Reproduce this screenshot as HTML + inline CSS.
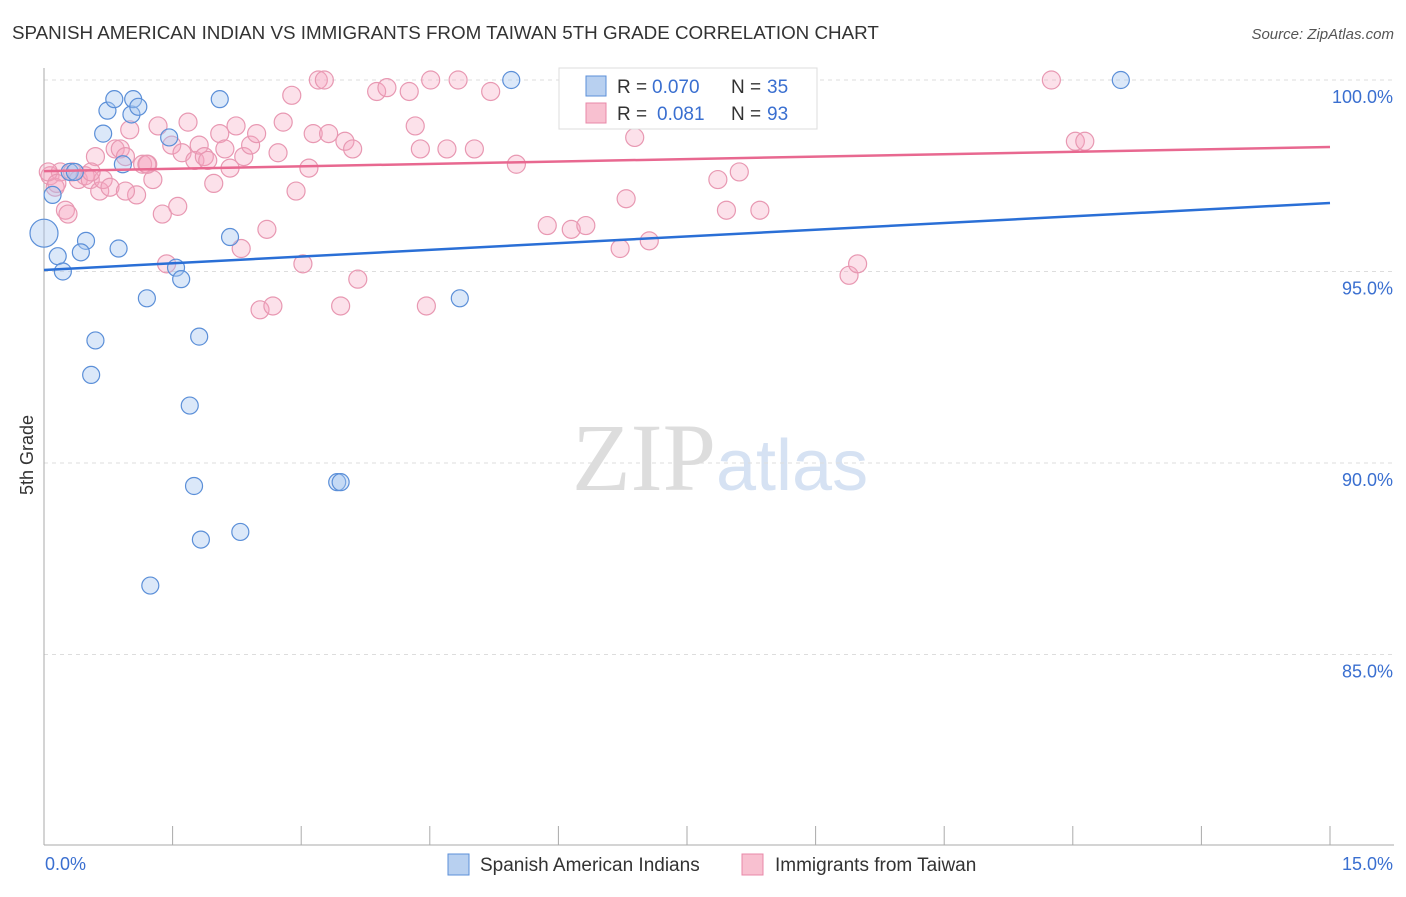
<!DOCTYPE html>
<html><head><meta charset="utf-8"><style>
body{margin:0;background:#fff;font-family:"Liberation Sans",sans-serif;}
</style></head><body>
<svg id="c" width="1406" height="892" xmlns="http://www.w3.org/2000/svg">
<text x="12" y="39" font-size="18.8" fill="#333">SPANISH AMERICAN INDIAN VS IMMIGRANTS FROM TAIWAN 5TH GRADE CORRELATION CHART</text>
<text x="1394" y="39" font-size="15" fill="#555" font-style="italic" text-anchor="end">Source: ZipAtlas.com</text>
<text x="33" y="455" font-size="18" fill="#333" text-anchor="middle" transform="rotate(-90 33 455)">5th Grade</text>
<text x="716" y="490" font-size="96" fill="#ddd" text-anchor="end" font-family="Liberation Serif,serif">ZIP</text>
<text x="716" y="490" font-size="72" fill="#d6e2f3">atlas</text>
<g id="grid"></g><g id="marks"></g>
<rect x="559" y="68" width="258" height="61" fill="#fff" stroke="#ddd"/>
<rect x="586" y="76" width="20" height="20" fill="#b8d0f0" stroke="#5b8fd8"/>
<rect x="586" y="103" width="20" height="20" fill="#f8c0d0" stroke="#e888a8"/>
<g font-size="19">
<text x="617" y="93" fill="#333">R =</text><text x="652" y="93" fill="#3a6fd0">0.070</text>
<text x="731" y="93" fill="#333">N =</text><text x="767" y="93" fill="#3a6fd0">35</text>
<text x="617" y="120" fill="#333">R =</text><text x="657" y="120" fill="#3a6fd0">0.081</text>
<text x="731" y="120" fill="#333">N =</text><text x="767" y="120" fill="#3a6fd0">93</text>
</g>
<rect x="448" y="854" width="21" height="21" fill="#b8d0f0" stroke="#5b8fd8"/>
<text x="480" y="871" font-size="19" fill="#333">Spanish American Indians</text>
<rect x="742" y="854" width="21" height="21" fill="#f8c0d0" stroke="#e888a8"/>
<text x="775" y="871" font-size="19" fill="#333">Immigrants from Taiwan</text>
</svg>
<script>
const yTicks=[100,95,90,85];
const yTickLabels=["100.0%","95.0%","90.0%","85.0%"];
const xTickLabels=["0.0%","15.0%"];
const blueX=[0,0.16,0.22,0.3,0.36,0.49,0.43,0.69,0.74,0.82,1.02,1.04,1.1,0.92,0.87,1.2,0.6,0.55,1.24,1.46,1.54,1.6,1.81,1.7,1.75,1.83,2.29,2.17,2.05,3.42,3.46,4.85,5.45,12.56,0.1];
const blueY=[96.0,95.4,95.0,97.6,97.6,95.8,95.5,98.6,99.2,99.5,99.1,99.5,99.3,97.8,95.6,94.3,93.2,92.3,86.8,98.5,95.1,94.8,93.3,91.5,89.4,88.0,88.2,95.9,99.5,89.5,89.5,94.3,100,100,97.0];
const pinkX=[0.07,0.13,0.19,0.25,0.28,0.33,0.4,0.48,0.54,0.6,0.65,0.69,0.77,0.83,0.89,0.95,1.0,1.08,1.15,1.21,1.27,1.33,1.38,1.43,1.49,1.56,1.61,1.68,1.76,1.81,1.87,1.91,1.98,2.05,2.11,2.17,2.24,2.3,2.33,2.41,2.48,2.52,2.6,2.67,2.73,2.79,2.89,2.94,3.02,3.09,3.14,3.2,3.27,3.32,3.46,3.51,3.6,3.66,3.88,4.0,4.26,4.33,4.39,4.46,4.51,4.7,4.83,5.02,5.21,5.51,5.87,6.15,6.32,6.32,6.49,6.72,6.79,6.89,7.06,7.86,7.96,8.11,8.35,9.39,9.49,11.75,12.03,12.14,0.05,0.15,0.55,1.2,0.95];
const pinkY=[97.5,97.2,97.6,96.6,96.5,97.6,97.4,97.5,97.4,98.0,97.1,97.4,97.2,98.2,98.2,98.0,98.7,97.0,97.8,97.8,97.4,98.8,96.5,95.2,98.3,96.7,98.1,98.9,97.9,98.3,98.0,97.9,97.3,98.6,98.2,97.7,98.8,95.6,98.0,98.3,98.6,94.0,96.1,94.1,98.1,98.9,99.6,97.1,95.2,97.7,98.6,100,100,98.6,94.1,98.4,98.2,94.8,99.7,99.8,99.7,98.8,98.2,94.1,100,98.2,100,98.2,99.7,97.8,96.2,96.1,96.2,100,99.1,95.6,96.9,98.5,95.8,97.4,96.6,97.6,96.6,94.9,95.2,100,98.4,98.4,97.6,97.3,97.6,97.8,97.1];
const blueTrend=[95.04,96.79];
const pinkTrend=[97.62,98.25];
const NS="http://www.w3.org/2000/svg";
const X=v=>44+v/15*1286;
const Y=v=>80+(100-v)*38.3;
function mk(t,a,p){const e=document.createElementNS(NS,t);for(const k in a)e.setAttribute(k,a[k]);p.appendChild(e);return e;}
const g=document.getElementById('grid'),m=document.getElementById('marks');
yTicks.forEach((v,i)=>{
 const l=mk('line',{x1:44,x2:1394,y1:Y(v),y2:Y(v),stroke:'#ddd','stroke-dasharray':'4 4'},g);
 
 
 const t=mk('text',{x:1393,y:Y(v)+23,'font-size':18,fill:'#3a6fd0','text-anchor':'end'},g);
 t.textContent=yTickLabels[i];
 
 
});
const ax=mk('line',{x1:44,x2:44,y1:68,y2:845,stroke:'#aaa'},g);


const bx=mk('line',{x1:44,x2:1394,y1:845,y2:845,stroke:'#aaa'},g);


for(let i=0;i<=10;i++){const tk=mk('line',{x1:X(i*1.5),x2:X(i*1.5),y1:826,y2:845,stroke:'#aaa'},g);
 
 }
[[0,'start',45],[15,'end',1393]].forEach((d,i)=>{const t=mk('text',{x:d[2],y:870,'font-size':18,fill:'#3a6fd0','text-anchor':d[1]},g);t.textContent=xTickLabels[i];
 
 });
pinkX.forEach((x,i)=>{const c=mk('circle',{cx:X(x),cy:Y(pinkY[i]),r:9,fill:'rgba(245,165,190,0.33)',stroke:'#e898b2','stroke-width':1.2},m);
 
 });
blueX.forEach((x,i)=>{const c=mk('circle',{cx:X(x),cy:Y(blueY[i]),r:i==0?14:8.5,fill:'rgba(165,198,240,0.4)',stroke:'#5b8fd8','stroke-width':1.2},m);
 
 });
const bl=mk('line',{x1:X(0),x2:X(15),y1:Y(blueTrend[0]),y2:Y(blueTrend[1]),stroke:'#2a6fd6','stroke-width':2.5},m);


const pl=mk('line',{x1:X(0),x2:X(15),y1:Y(pinkTrend[0]),y2:Y(pinkTrend[1]),stroke:'#e86890','stroke-width':2.5},m);


</script>
</body></html>
